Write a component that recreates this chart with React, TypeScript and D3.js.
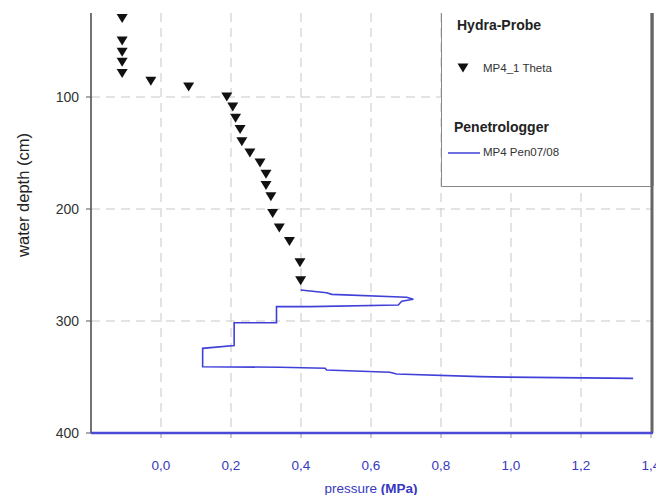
import React, { useRef, useEffect } from "react";
import * as d3 from "d3";

// Hydra-Probe readings (marker series)
const thetaX = [-0.111, -0.111, -0.111, -0.111, -0.111, -0.029, 0.079, 0.188, 0.205, 0.213, 0.226, 0.231, 0.254, 0.283, 0.3, 0.3, 0.314, 0.319, 0.338, 0.367, 0.397, 0.399];
const thetaDepth = [30, 50, 60, 69, 79, 86, 91, 100, 109, 119, 129, 140, 150, 159, 169, 179, 189, 204, 217, 229, 248, 264];

// Penetrologger profile (line series)
const penPressure = [0.399, 0.473, 0.488, 0.702, 0.721, 0.688, 0.683, 0.678, 0.426, 0.33, 0.33, 0.209, 0.209, 0.119, 0.119, 0.34, 0.469, 0.473, 0.654, 0.673, 0.911, 0.99, 1.349];
const penDepth = [272.3, 274.7, 276.2, 278.8, 280.6, 282.4, 283.9, 285.7, 287.2, 287.2, 301.5, 301.5, 322, 324.4, 340.8, 341.3, 342.2, 343.8, 345.8, 347.3, 349.7, 350.1, 351.2];

const xTicks = [0, 0.2, 0.4, 0.6, 0.8, 1.0, 1.2, 1.4];
const xGrid = [0, 0.2, 0.4, 0.6, 0.8, 1.0, 1.2];
const yTicks = [100, 200, 300, 400];
const yGrid = [100, 200, 300];

const W = 656;
const H = 495;

const App = () => {
  const ref = useRef<HTMLDivElement>(null);

  useEffect(() => {
    const container = ref.current;
    if (!container) return;

    const x = d3.scaleLinear().domain([-0.2, 1.4]).range([91, 651]);
    const y = d3.scaleLinear().domain([25, 400]).range([13, 433]);
    const fmt = (v: number) => d3.format(".1f")(v).replace(".", ",");

    const svg = d3.create("svg")
      .attr("width", W)
      .attr("height", H)
      .attr("viewBox", `0 0 ${W} ${H}`)
      .style("font-family", "Arial, 'Liberation Sans', sans-serif")
      .style("display", "block");

    svg.append("rect").attr("width", W).attr("height", H).attr("fill", "#fff");

    // grid
    const grid = svg.append("g")
      .attr("stroke", "#c8c8c8")
      .attr("stroke-width", 1)
      .attr("stroke-dasharray", "9,6");
    grid.selectAll("line.v").data(xGrid).join("line")
      .attr("class", "v")
      .attr("x1", d => x(d)).attr("x2", d => x(d))
      .attr("y1", y(25)).attr("y2", y(400));
    grid.selectAll("line.h").data(yGrid).join("line")
      .attr("class", "h")
      .attr("x1", x(-0.2)).attr("x2", x(1.4))
      .attr("y1", d => y(d)).attr("y2", d => y(d));

    // x tick marks
    svg.append("g").attr("stroke", "#999").selectAll("line").data(xTicks).join("line")
      .attr("x1", d => x(d)).attr("x2", d => x(d))
      .attr("y1", y(400)).attr("y2", y(400) + 5);

    // y axis
    svg.append("line")
      .attr("x1", x(-0.2)).attr("x2", x(-0.2))
      .attr("y1", y(25)).attr("y2", y(400))
      .attr("stroke", "#444").attr("stroke-width", 1.5);
    svg.append("g").attr("stroke", "#555").selectAll("line").data(yTicks).join("line")
      .attr("x1", x(-0.2) - 5).attr("x2", x(-0.2))
      .attr("y1", d => y(d)).attr("y2", d => y(d));
    svg.append("g").selectAll("text").data(yTicks).join("text")
      .attr("x", x(-0.2) - 12)
      .attr("y", d => y(d))
      .attr("text-anchor", "end")
      .attr("dominant-baseline", "central")
      .attr("font-size", 14)
      .attr("fill", "#333")
      .text(d => d);
    svg.append("text")
      .attr("transform", `translate(23,195) rotate(-90)`)
      .attr("text-anchor", "middle")
      .attr("dominant-baseline", "central")
      .attr("font-size", 16.5)
      .attr("fill", "#222")
      .text("water depth (cm)");

    // right border
    svg.append("line")
      .attr("x1", 652).attr("x2", 652)
      .attr("y1", y(25)).attr("y2", y(400))
      .attr("stroke", "#666").attr("stroke-width", 3);

    // x axis
    svg.append("line")
      .attr("x1", x(-0.2)).attr("x2", x(1.4) + 2)
      .attr("y1", y(400)).attr("y2", y(400))
      .attr("stroke", "#4a4ad6").attr("stroke-width", 2.5);
    svg.append("g").selectAll("text").data(xTicks).join("text")
      .attr("x", d => x(d))
      .attr("y", 465)
      .attr("text-anchor", "middle")
      .attr("dominant-baseline", "central")
      .attr("font-size", 13.5)
      .attr("fill", "#3838c0")
      .text(d => fmt(d));
    const xl = svg.append("text")
      .attr("x", 371).attr("y", 488)
      .attr("text-anchor", "middle")
      .attr("dominant-baseline", "central")
      .attr("font-size", 13.5)
      .attr("fill", "#3838c0");
    xl.append("tspan").text("pressure ");
    xl.append("tspan").attr("font-weight", "bold").text("(MPa)");

    // penetrologger line
    const penPts = penPressure.map((p, i) => [p, penDepth[i]] as [number, number]);
    const line = d3.line<[number, number]>().x(d => x(d[0])).y(d => y(d[1]));
    svg.append("path")
      .attr("d", line(penPts))
      .attr("fill", "none")
      .attr("stroke", "#4040d8")
      .attr("stroke-width", 1.6);

    // theta markers
    const tri = "M-5.5,-4.5L5.5,-4.5L0,4.5Z";
    svg.append("g").selectAll("path").data(thetaX).join("path")
      .attr("d", tri)
      .attr("transform", (d, i) => `translate(${x(d)},${y(thetaDepth[i])})`)
      .attr("fill", "#111");

    // legend (top edge is cropped off in the original)
    const lg = svg.append("g");
    lg.append("rect")
      .attr("x", 441.5).attr("y", 13)
      .attr("width", 209).attr("height", 173)
      .attr("fill", "#fff");
    lg.append("path")
      .attr("d", "M441.5,13V186.5H651")
      .attr("fill", "none")
      .attr("stroke", "#888").attr("stroke-width", 1);
    lg.append("line")
      .attr("x1", 652).attr("x2", 652).attr("y1", 13).attr("y2", 186)
      .attr("stroke", "#666").attr("stroke-width", 3);
    lg.append("text")
      .attr("x", 457).attr("y", 25)
      .attr("dominant-baseline", "central")
      .attr("font-size", 14).attr("font-weight", "bold").attr("fill", "#222")
      .text("Hydra-Probe");
    lg.append("path").attr("d", tri)
      .attr("transform", "translate(463,68)")
      .attr("fill", "#111");
    lg.append("text")
      .attr("x", 483).attr("y", 68)
      .attr("dominant-baseline", "central")
      .attr("font-size", 11.5).attr("fill", "#333")
      .text("MP4_1 Theta");
    lg.append("text")
      .attr("x", 454).attr("y", 127)
      .attr("dominant-baseline", "central")
      .attr("font-size", 14).attr("font-weight", "bold").attr("fill", "#222")
      .text("Penetrologger");
    lg.append("line")
      .attr("x1", 448).attr("x2", 480).attr("y1", 153).attr("y2", 153)
      .attr("stroke", "#4040d8").attr("stroke-width", 1.5);
    lg.append("text")
      .attr("x", 483).attr("y", 152)
      .attr("dominant-baseline", "central")
      .attr("font-size", 11.5).attr("fill", "#333")
      .text("MP4 Pen07/08");

    container.innerHTML = "";
    container.appendChild(svg.node() as SVGSVGElement);
  }, []);

  return <div ref={ref} style={{ position: "absolute", left: 0, top: 0 }}></div>;
};

export default App;
